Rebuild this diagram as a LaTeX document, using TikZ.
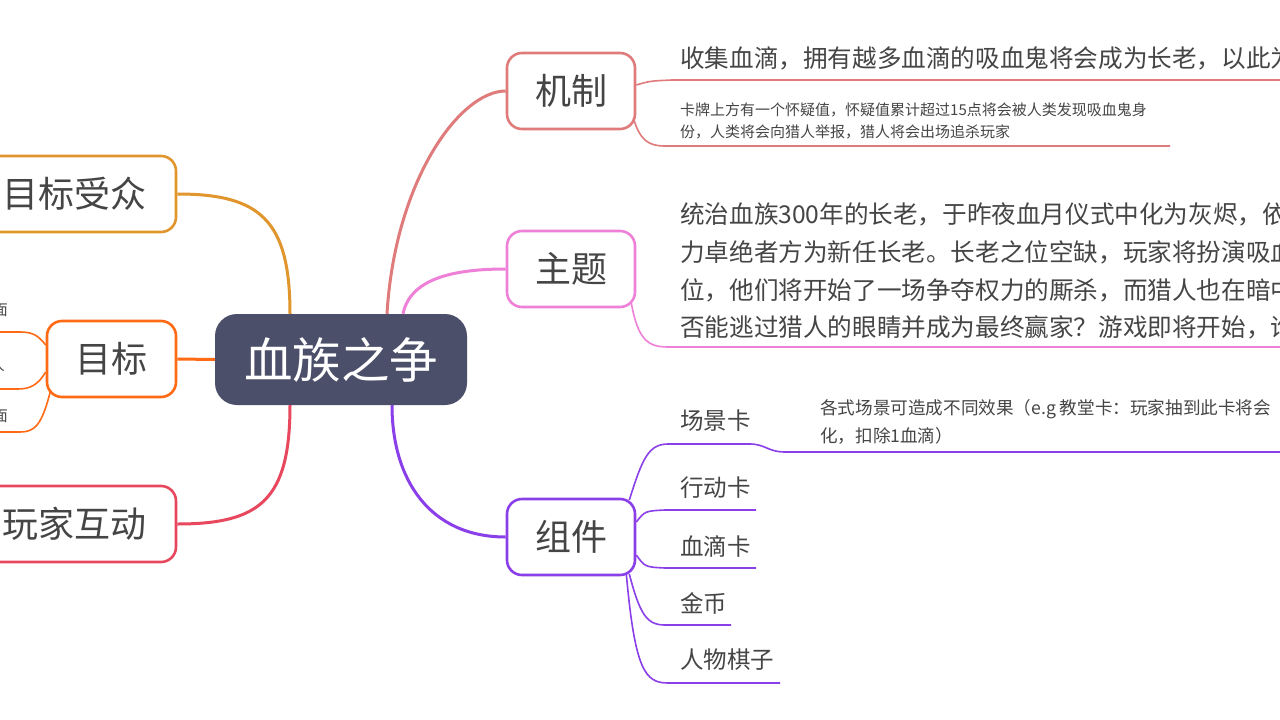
\documentclass[tikz,border=0pt]{standalone}
\usepackage{fontspec}
\setmainfont{Noto Sans CJK SC}
\definecolor{textc}{HTML}{454545}
\definecolor{central}{HTML}{4B4F69}
\definecolor{cjz}{HTML}{E07B7B}
\definecolor{czt}{HTML}{EE80D8}
\definecolor{czj}{HTML}{8A3FE8}
\definecolor{cmbsz}{HTML}{E0962C}
\definecolor{cmb}{HTML}{FF6B14}
\definecolor{chd}{HTML}{E8485E}
\begin{document}
\begin{tikzpicture}[x=1pt,y=-1pt,
 txt/.style={text=textc, inner sep=0pt, anchor=west},
 topic/.style={draw=#1, line width=2.6pt, rounded corners=15pt, fill=white, minimum height=76pt, text=textc, font=\fontsize{36}{36}\selectfont, inner sep=0pt},
 mainline/.style={line width=3pt, draw=#1},
 subline/.style={line width=1.6pt, draw=#1},
 big/.style={font=\fontsize{24.6}{24.6}\selectfont},
 small/.style={font=\fontsize{15}{15}\selectfont},
 card/.style={font=\fontsize{23.5}{23.5}\selectfont},
 desc/.style={font=\fontsize{17.6}{17.6}\selectfont},
]
\useasboundingbox (0,0) rectangle (1280,720);
\clip (0,0) rectangle (1280,720);
\fill[white] (0,0) rectangle (1280,720);

% central and topics
\node[fill=central, rounded corners=22pt, minimum width=252pt, minimum height=91pt, text=white, inner sep=0pt, font=\fontsize{48.5}{48.5}\selectfont] (c) at (341,359.5) {血族之争};
\node[topic=cjz, minimum width=128pt] (jz) at (571,91) {机制};
\node[topic=czt, minimum width=128pt] (zt) at (571,269) {主题};
\node[topic=czj, minimum width=128pt] (zj) at (571,537) {组件};
\node[topic=cmbsz, minimum width=204pt] (mbsz) at (74,194) {目标受众};
\node[topic=cmb, minimum width=129pt] (mb) at (111.5,359) {目标};
\node[topic=chd, minimum width=204pt] (hd) at (74,524) {玩家互动};

% main connectors
\draw[mainline=cjz] ([xshift=46pt]c.north) .. controls (395,180) and (460,91) .. (jz.west);
\draw[mainline=czt] ([xshift=62pt]c.north) .. controls (410,280) and (450,269) .. (zt.west);
\draw[mainline=czj] ([xshift=51pt]c.south) .. controls (392,480) and (430,537) .. (zj.west);
\draw[mainline=cmbsz] ([xshift=-51pt]c.north) .. controls (290,220) and (260,194) .. (mbsz.east);
\draw[mainline=chd] ([xshift=-51pt]c.south) .. controls (290,500) and (260,524) .. (hd.east);
\draw[mainline=cmb] (c.west) -- (mb.east);

% 机制 children
\node[txt, big] (jz1) at (680,58) {收集血滴，拥有越多血滴的吸血鬼将会成为长老，以此为};
\node[txt, small] (jz2a) at (680,110) {卡牌上方有一个怀疑值，怀疑值累计超过15点将会被人类发现吸血鬼身};
\node[txt, small] (jz2b) at (680,132) {份，人类将会向猎人举报，猎人将会出场追杀玩家};
\coordinate (jz1e) at (1290,80);
\coordinate (jz2e) at (1170,146);
\draw[subline=cjz] ([yshift=6pt]jz.east) .. controls (650,81) .. (672,80) -- (jz1e);
\draw[subline=cjz] ([xshift=-3pt,yshift=-27pt]jz.east) .. controls (640,140) and (648,146) .. (665,146) -- (jz2e);

% 主题 children
\node[txt, big] (zt1) at (680,214) {统治血族300年的长老，于昨夜血月仪式中化为灰烬，依};
\node[txt, big] (zt2) at (680,252) {力卓绝者方为新任长老。长老之位空缺，玩家将扮演吸血};
\node[txt, big] (zt3) at (680,290) {位，他们将开始了一场争夺权力的厮杀，而猎人也在暗中};
\node[txt, big] (zt4) at (680,327) {否能逃过猎人的眼睛并成为最终赢家？游戏即将开始，谁};
\coordinate (zte) at (1290,347);
\draw[subline=czt] ([xshift=-5pt,yshift=-34pt]zt.east) .. controls (638,340) and (648,347) .. (668,347) -- (zte);

% 组件 children
\node[txt, card] (k1) at (680,421) {场景卡};
\node[txt, desc] (k1a) at (820,409) {各式场景可造成不同效果（e.g 教堂卡：玩家抽到此卡将会};
\node[txt, desc] (k1b) at (820,436) {化，扣除1血滴）};
\node[txt, card] (k2) at (680,488) {行动卡};
\node[txt, card] (k3) at (680,546) {血滴卡};
\node[txt, card] (k4) at (680,603) {金币};
\node[txt, card] (k5) at (680,660) {人物棋子};
\coordinate (k1e) at (1290,452);
\coordinate (k2e) at (756,510);
\coordinate (k3e) at (756,568);
\coordinate (k4e) at (731,625);
\coordinate (k5e) at (780,683);
\draw[subline=czj] ([xshift=-7pt,yshift=37pt]zj.east) .. controls (642,460) and (648,444) .. (668,444) -- (750,444) .. controls (765,444) and (768,452) .. (785,452) -- (k1e);
\draw[subline=czj] ([yshift=15pt]zj.east) .. controls (645,511) .. (665,510) -- (k2e);
\draw[subline=czj] ([yshift=-18pt]zj.east) .. controls (645,567) .. (665,568) -- (k3e);
\draw[subline=czj] ([xshift=-7pt,yshift=-37pt]zj.east) .. controls (640,615) and (647,625) .. (665,625) -- (k4e);
\draw[subline=czj] ([xshift=-10pt,yshift=-37pt]zj.east) .. controls (635,670) and (645,683) .. (668,683) -- (k5e);

% 目标 children (cut off at the left edge, as in the reference)
\node[txt, small, anchor=east] (m1) at (8,310) {面};
\node[txt, small, anchor=east] (m2) at (5,365) {人};
\node[txt, small, anchor=east] (m3) at (8,416) {面};
\coordinate (m1e) at (-10,332);
\coordinate (m2e) at (-10,389);
\coordinate (m3e) at (-10,432);
\draw[subline=cmb] ([yshift=14pt]mb.west) .. controls (38,335) and (32,332) .. (20,332) -- (m1e);
\draw[subline=cmb] ([yshift=-13pt]mb.west) .. controls (38,385) and (30,389) .. (18,389) -- (m2e);
\draw[subline=cmb] ([xshift=5pt,yshift=-31pt]mb.west) .. controls (42,425) and (35,432) .. (20,432) -- (m3e);
\end{tikzpicture}
\end{document}
